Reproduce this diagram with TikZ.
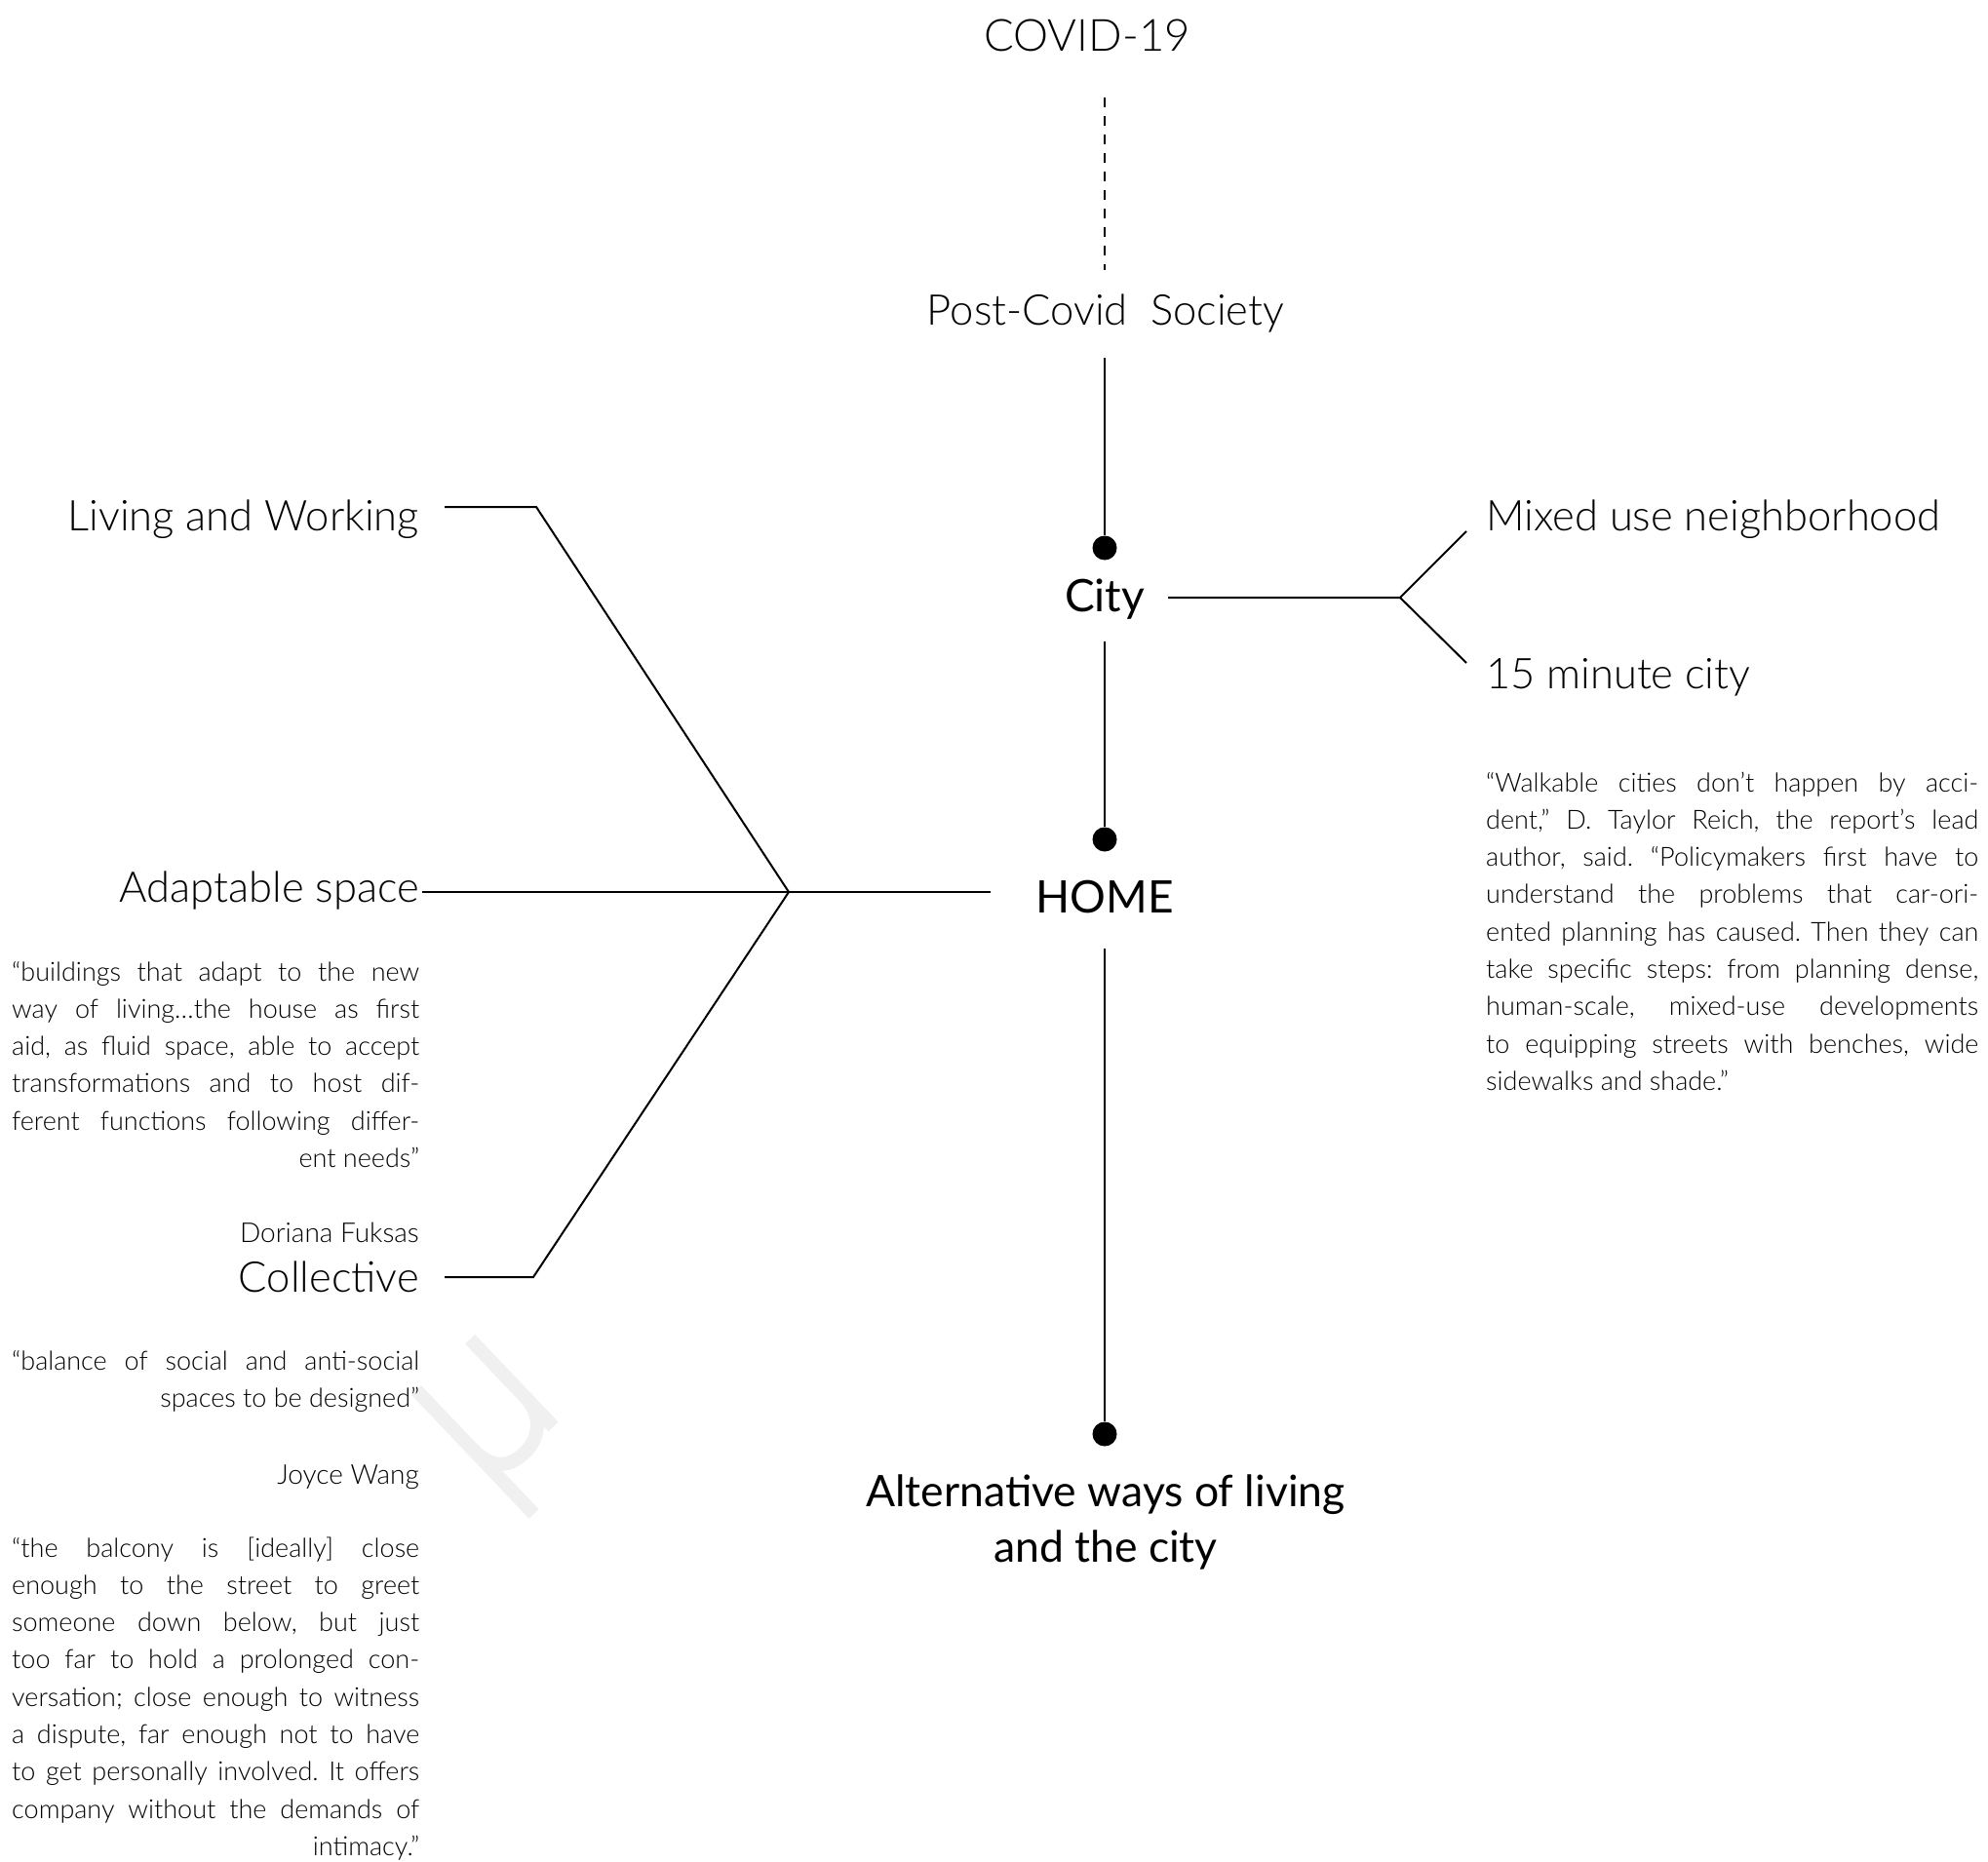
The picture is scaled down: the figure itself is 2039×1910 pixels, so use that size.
\documentclass[tikz,border=0pt]{standalone}
\usepackage{fontspec}
\setmainfont{Lato}
\newfontfamily\lightfont{Lato Light}
\usetikzlibrary{calc}
\frenchspacing

\newcommand{\qj}[1]{\makebox[\linewidth][s]{#1}\par}
\newcommand{\qr}[1]{\makebox[\linewidth][r]{#1}\par}
\newcommand{\ql}[1]{\makebox[\linewidth][l]{#1}\par}

\tikzset{
  conn/.style={line width=2pt, black},
  dashconn/.style={line width=2pt, black, dash pattern=on 10pt off 9pt},
  dotnode/.style={circle, fill=black, minimum size=25pt, inner sep=0pt},
  biglight/.style={font=\lightfont\fontsize{43.5}{50}\selectfont, inner sep=0pt},
  bigmed/.style={font=\fontsize{44.5}{57}\selectfont, inner sep=0pt},
  smalltext/.style={font=\lightfont\fontsize{27}{38.3}\selectfont, inner sep=0pt},
  authortext/.style={font=\lightfont\fontsize{28}{38.3}\selectfont, inner sep=0pt},
  wm/.style={line width=14pt, black!6},
}

\begin{document}
\begin{tikzpicture}[x=1pt, y=-1pt]
\useasboundingbox (0,0) rectangle (2039,1910);

% faint watermark (rotated mu)
\begin{scope}[shift={(427,1426)}, x={(0.725pt,0.689pt)}, y={(0.689pt,-0.725pt)}]
  \draw[wm] (0,0) -- (0,175);
  \draw[wm] (76,0) -- (76,124);
  \draw[wm] (0,82) .. controls (0,112) and (14,123) .. (36,123) .. controls (60,123) and (76,106) .. (76,82);
\end{scope}

% central axis
\node[biglight, font=\lightfont\fontsize{45.5}{50}\selectfont, anchor=base] (covid) at (1115,53) {COVID-19};
\node[biglight, anchor=base] (pcs) at (1134,333) {Post-Covid\ \ Society};
\node[dotnode] (citydot) at (1133,562) {};
\node[bigmed, font=\fontsize{46}{57}\selectfont, anchor=base] (city) at (1133,627) {City};
\node[dotnode] (homedot) at (1133,861) {};
\node[bigmed, font=\fontsize{46}{57}\selectfont, anchor=base] (home) at (1133,936) {HOME};
\node[dotnode] (altdot) at (1133,1471) {};
\node[bigmed, anchor=base] (alt) at (1134,1545) {\parbox[t]{700pt}{\centering Alternative ways of living\par and the city}};

\draw[dashconn] ($(covid.base -| citydot)+(0,47)$) -- ($(pcs.base -| citydot)+(0,-56)$);
\draw[conn] ($(pcs.base -| citydot)+(0,34)$) -- (citydot);
\draw[conn] ($(city.base)+(0,31)$) -- (homedot);
\draw[conn] ($(home.base)+(0,37)$) -- (altdot);

% right branch
\node[biglight, anchor=base west] (mixed) at (1524,544) {Mixed use neighborhood};
\node[biglight, anchor=base west] (fifteen) at (1524,706) {15 minute city};
\coordinate (hubC) at (1436,613);
\draw[conn] ($(city.base)+(65,-14)$) -- (hubC) -- ($(mixed.base west)+(-20,1)$);
\draw[conn] (hubC) -- ($(fifteen.base west)+(-20,-26)$);

\node[smalltext, anchor=base west] (qright) at (1524,812) {\parbox[t]{505pt}{%
\qj{“Walkable cities don’t happen by acci-}
\qj{dent,” D. Taylor Reich, the report’s lead}
\qj{author, said. “Policymakers first have to}
\qj{understand the problems that car-ori-}
\qj{ented planning has caused. Then they can}
\qj{take specific steps: from planning dense,}
\qj{human-scale, mixed-use developments}
\qj{to equipping streets with benches, wide}
\ql{sidewalks and shade.”}}};

% left branch
\node[biglight, anchor=base east] (living) at (430,544) {Living and Working};
\node[biglight, anchor=base east] (adapt) at (430,925) {Adaptable space};
\node[biglight, anchor=base east] (coll) at (430,1325) {Collective};
\coordinate (hubL) at (809,915);
\draw[conn] ($(living.base east)+(26,-24)$) -- ++(94,0) -- (hubL);
\draw[conn] ($(adapt.base east)+(3,-10)$) -- (hubL) -- ($(home.base)+(-117,-21)$);
\draw[conn] ($(coll.base east)+(26,-15)$) -- ++(91,0) -- (hubL);

\node[smalltext, anchor=base west] (q1) at (12,1006) {\parbox[t]{418pt}{%
\qj{“buildings that adapt to the new}
\qj{way of living…the house as first}
\qj{aid, as fluid space, able to accept}
\qj{transformations and to host dif-}
\qj{ferent functions following differ-}
\qr{ent needs”}}};
\node[authortext, anchor=base east] (doriana) at (430,1274) {Doriana Fuksas};

\node[smalltext, anchor=base west] (q2) at (12,1405) {\parbox[t]{418pt}{%
\qj{“balance of social and anti-social}
\qr{spaces to be designed”}}};
\node[authortext, anchor=base east] (joyce) at (430,1522) {Joyce Wang};

\node[smalltext, anchor=base west] (q3) at (12,1597) {\parbox[t]{418pt}{%
\qj{“the balcony is [ideally] close}
\qj{enough to the street to greet}
\qj{someone down below, but just}
\qj{too far to hold a prolonged con-}
\qj{versation; close enough to witness}
\qj{a dispute, far enough not to have}
\qj{to get personally involved. It offers}
\qj{company without the demands of}
\qr{intimacy.”}}};
\end{tikzpicture}
\end{document}
